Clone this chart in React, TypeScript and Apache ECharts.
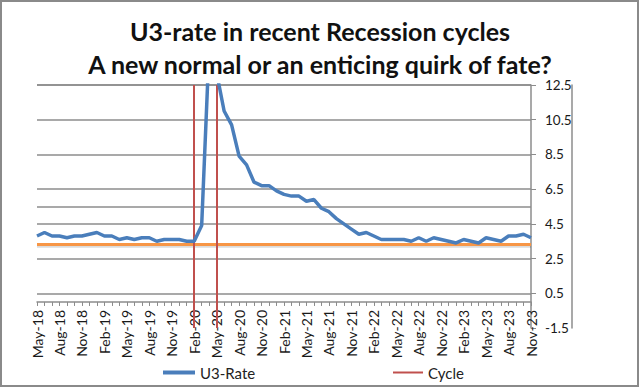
import React, { useEffect, useRef } from "react";
import * as echarts from "echarts";

const titleLines = ["U3-rate in recent Recession cycles", "A new normal or an enticing quirk of fate?"];

const categories = [
  "May-18", "Jun-18", "Jul-18", "Aug-18", "Sep-18", "Oct-18", "Nov-18", "Dec-18",
  "Jan-19", "Feb-19", "Mar-19", "Apr-19", "May-19", "Jun-19", "Jul-19", "Aug-19", "Sep-19", "Oct-19", "Nov-19", "Dec-19",
  "Jan-20", "Feb-20", "Mar-20", "Apr-20", "May-20", "Jun-20", "Jul-20", "Aug-20", "Sep-20", "Oct-20", "Nov-20", "Dec-20",
  "Jan-21", "Feb-21", "Mar-21", "Apr-21", "May-21", "Jun-21", "Jul-21", "Aug-21", "Sep-21", "Oct-21", "Nov-21", "Dec-21",
  "Jan-22", "Feb-22", "Mar-22", "Apr-22", "May-22", "Jun-22", "Jul-22", "Aug-22", "Sep-22", "Oct-22", "Nov-22", "Dec-22",
  "Jan-23", "Feb-23", "Mar-23", "Apr-23", "May-23", "Jun-23", "Jul-23", "Aug-23", "Sep-23", "Oct-23", "Nov-23",
];

const u3Rate = [
  3.8, 4.0, 3.8, 3.8, 3.7, 3.8, 3.8, 3.9,
  4.0, 3.8, 3.8, 3.6, 3.7, 3.6, 3.7, 3.7, 3.5, 3.6, 3.6, 3.6,
  3.5, 3.5, 4.4, 14.7, 13.2, 11.0, 10.2, 8.4, 7.9, 6.9, 6.7, 6.7,
  6.4, 6.2, 6.1, 6.1, 5.8, 5.9, 5.4, 5.2, 4.8, 4.5, 4.2, 3.9,
  4.0, 3.8, 3.6, 3.6, 3.6, 3.6, 3.5, 3.7, 3.5, 3.7, 3.6, 3.5,
  3.4, 3.6, 3.5, 3.4, 3.7, 3.6, 3.5, 3.8, 3.8, 3.9, 3.7,
];

const cycleMonths = ["Feb-20", "May-20"];
const baselineLevel = [3.35];
const yTickLabels = ["-1.5", "0.5", "2.5", "4.5", "6.5", "8.5", "10.5", "12.5"];
const yMin = -1.5;
const yMax = 12.5;
const xAxisCrossing = 0;

const FONT = "Lato, 'Liberation Sans', sans-serif";
const GRID = "#8c8c8c";
const GRID_TOP = 85;
const GRID_BOTTOM = 60;
const H = 388;

export default function App() {
  const ref = useRef<HTMLDivElement>(null);
  useEffect(() => {
    document.body.style.margin = "0";
    const chart = echarts.init(ref.current!, null, { renderer: "svg" });
    const span = yMax - yMin;
    const plotH = H - GRID_TOP - GRID_BOTTOM;
    const pxPerUnit = plotH / span;
    const xAxisOffset = -((xAxisCrossing - yMin) * pxPerUnit);
    const shadowShift = 1.5 / pxPerUnit;
    chart.setOption({
      animation: false,
      backgroundColor: "#fff",
      title: {
        text: titleLines.join("\n"),
        left: "center",
        top: 9,
        textStyle: { fontFamily: FONT, fontSize: 25, fontWeight: "bold", color: "#111", lineHeight: 33 },
      },
      graphic: [
        {
          type: "rect",
          shape: { x: 1, y: 1, width: 637, height: 385 },
          style: { fill: "none", stroke: "#8a8a8a", lineWidth: 2 },
          silent: true,
        },
      ],
      legend: [
        {
          data: ["U3-Rate"],
          left: 158,
          top: 360,
          itemWidth: 32,
          itemHeight: 4,
          icon: "rect",
          textStyle: { fontFamily: FONT, fontSize: 15, color: "#222" },
        },
        {
          data: ["Cycle"],
          left: 388,
          top: 360,
          itemWidth: 30,
          itemHeight: 2,
          icon: "rect",
          textStyle: { fontFamily: FONT, fontSize: 15, color: "#222" },
        },
      ],
      grid: { left: 37, right: 109, top: GRID_TOP, bottom: GRID_BOTTOM, containLabel: false },
      xAxis: {
        type: "category",
        data: categories,
        boundaryGap: false,
        position: "bottom",
        offset: xAxisOffset,
        axisLine: { onZero: false, lineStyle: { color: GRID, width: 1.5 } },
        axisTick: { show: true, interval: 0, length: 4, lineStyle: { color: GRID } },
        axisLabel: {
          interval: 2,
          rotate: 90,
          margin: 8,
          fontFamily: FONT,
          fontSize: 14,
          color: "#1a1a1a",
        },
        splitLine: { show: false },
      },
      yAxis: [
        {
          type: "value",
          min: yMin,
          max: yMax,
          position: "left",
          axisLine: { show: false },
          axisTick: { show: false },
          axisLabel: { show: false },
          splitLine: { show: false },
        },
        {
          type: "value",
          position: "right",
          min: 0,
          max: span,
          interval: 2,
          axisLine: { show: true, lineStyle: { color: GRID, width: 1.5 } },
          axisTick: { show: true, length: 5, lineStyle: { color: GRID } },
          axisLabel: {
            margin: 14,
            align: "left",
            fontFamily: FONT,
            fontSize: 13.5,
            color: "#1a1a1a",
            formatter: (_v: number, i: number) => yTickLabels[i] ?? "",
          },
          splitLine: { show: true, showMinLine: false, lineStyle: { color: GRID, width: 1.5 } },
        },
        {
          type: "value",
          position: "right",
          offset: 41,
          min: 0,
          max: span,
          interval: span / 2,
          axisLine: { show: true, lineStyle: { color: GRID, width: 1.5 } },
          axisTick: { show: false },
          axisLabel: { show: false },
          splitLine: { show: true, showMinLine: false, lineStyle: { color: GRID, width: 1.5 } },
        },
      ],
      series: [
        {
          name: "U3-Rate",
          type: "line",
          yAxisIndex: 0,
          data: u3Rate,
          color: "#4A7EBB",
          showSymbol: false,
          symbol: "none",
          lineStyle: { width: 3.5, color: "#4A7EBB" },
          z: 5,
          markLine: {
            silent: true,
            symbol: "none",
            label: { show: false },
            data: [
              ...baselineLevel.map((v) => ({
                yAxis: v - shadowShift,
                lineStyle: { color: "rgba(0,0,0,0.14)", width: 3.5, type: "solid" },
              })),
              ...baselineLevel.map((v) => ({
                yAxis: v,
                lineStyle: { color: "#F79646", width: 3, type: "solid" },
              })),
            ],
          },
        },
        {
          name: "Cycle",
          type: "line",
          yAxisIndex: 0,
          data: [],
          color: "#C0504D",
          showSymbol: false,
          lineStyle: { width: 2, color: "#C0504D" },
          z: 6,
          markLine: {
            silent: true,
            symbol: "none",
            label: { show: false },
            lineStyle: { color: "#C0504D", width: 2, type: "solid" },
            data: cycleMonths.map((m) => ({ xAxis: m })),
          },
        },
      ],
    });
    return () => chart.dispose();
  }, []);
  return <div ref={ref} style={{ width: 640, height: 388 }} />;
}
